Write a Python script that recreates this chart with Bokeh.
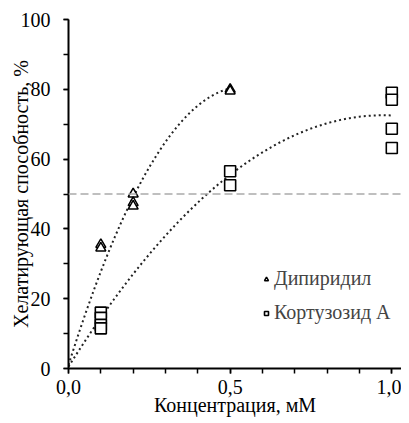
import numpy as np
from bokeh.plotting import figure
from bokeh.models import SingleIntervalTicker, Span, Legend, LegendItem, Range1d
from bokeh.embed import file_html
from bokeh.resources import INLINE

# Data
dip_x = [0.1, 0.1, 0.2, 0.2, 0.2, 0.5, 0.5]
dip_y = [35.5, 34.5, 50.0, 47.5, 46.5, 80.0, 79.5]
cort_x = [0.1, 0.1, 0.1, 0.1, 0.5, 0.5, 1.0, 1.0, 1.0, 1.0]
cort_y = [16.0, 14.5, 12.5, 11.5, 56.5, 52.5, 79.0, 77.0, 68.7, 63.2]
# polynomial trend lines (highest power first), domain
dip_trend = [-273.0, 295.0, 1.0]
dip_trend_range = [0.0, 0.5]
cort_trend = [-76.0, 148.0, 0.5]
cort_trend_range = [0.0, 1.0]
threshold = 50
series_names = ["Дипиридил", "Кортузозид А"]
x_labels = {0: "0,0", 0.5: "0,5", 1: "1,0"}

FONT = "Liberation Serif"

p = figure(width=401, height=420, output_backend="svg", toolbar_location=None,
           x_range=Range1d(0, 1.03), y_range=Range1d(0, 100),
           min_border_left=68, min_border_right=0, min_border_top=19, min_border_bottom=52)
p.outline_line_color = None
p.grid.visible = False

# threshold dashed line
p.add_layout(Span(location=threshold, dimension="width", line_color="#aaaaaa",
                  line_dash="8 4", line_width=1.5))

# trend lines
xs = np.linspace(dip_trend_range[0], dip_trend_range[1], 60)
p.line(xs, np.polyval(dip_trend, xs), line_color="#222222", line_width=2, line_dash="2 3")
xs2 = np.linspace(cort_trend_range[0], cort_trend_range[1], 100)
p.line(xs2, np.polyval(cort_trend, xs2), line_color="#222222", line_width=2, line_dash="2 3")

r1 = p.scatter(dip_x, dip_y, marker="triangle", size=10, fill_color="white",
               line_color="black", line_width=1.5)
r2 = p.scatter(cort_x, cort_y, marker="square", size=11, fill_color="white",
               line_color="black", line_width=1.6)

legend = Legend(items=[LegendItem(label=series_names[0], renderers=[r1]),
                       LegendItem(label=series_names[1], renderers=[r2])],
                location=(193, 44), border_line_color=None, background_fill_alpha=0,
                label_text_font=FONT, label_text_font_size="20px",
                glyph_width=10, glyph_height=20, label_height=20, label_standoff=3,
                spacing=11, padding=0, margin=0)
p.add_layout(legend)

p.xaxis.ticker = SingleIntervalTicker(interval=0.5, num_minor_ticks=5)
p.yaxis.ticker = SingleIntervalTicker(interval=20, num_minor_ticks=2)
p.xaxis.major_label_overrides = x_labels
for ax in (p.xaxis[0], p.yaxis[0]):
    ax.axis_line_width = 2
    ax.axis_line_color = "black"
    ax.major_tick_out = 5
    ax.major_tick_in = 0
    ax.minor_tick_out = 5
    ax.minor_tick_in = 0
    ax.major_tick_line_width = 1.5
    ax.minor_tick_line_width = 1.5
    ax.major_label_text_font = FONT
    ax.major_label_text_font_size = "20px"
    ax.major_label_text_color = "black"
    ax.major_label_text_line_height = 1.0
    ax.axis_label_text_font = FONT
    ax.axis_label_text_font_size = "20px"
    ax.axis_label_text_font_style = "normal"
    ax.axis_label_text_color = "black"
    ax.axis_label_text_line_height = 0.9
p.xaxis.axis_label = "Концентрация, мМ"
p.yaxis.axis_label = "Хелатирующая способность, %"
p.xaxis.major_label_standoff = 6
p.xaxis.axis_label_standoff = -3
p.yaxis.major_label_standoff = 13
p.yaxis.axis_label_standoff = -14

open("out.html", "w").write(file_html(p, INLINE))
